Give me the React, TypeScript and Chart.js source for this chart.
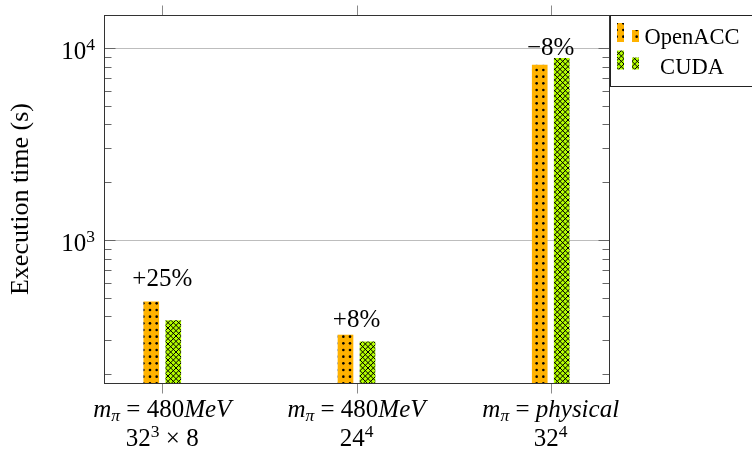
import { useEffect, useRef } from "react";
import { Chart, registerables } from "chart.js";

Chart.register(...registerables);

// ---- data ----
const categoryPositions = [0, 1, 2];
const pionMasses = ["480MeV", "480MeV", "physical"];
const latticeSizes = ["32^3 × 8", "24^4", "32^4"];
const seriesNames = ["OpenACC", "CUDA"];
const openaccSeconds = [477, 320, 8155];
const cudaSeconds = [380, 295, 8842];
const differenceLabels = ["+25%", "+8%", "−8%"];
const differenceLabelAt = [576, 352, 9195];
const yMajorTicks = [1000, 10000];
const yMinorTicks = [200, 300, 400, 500, 600, 700, 800, 900, 2000, 3000, 4000, 5000, 6000, 7000, 8000, 9000];
const yLimits = [180, 14860];
const xLimits = [-0.3, 2.3];
const yTitle = "Execution time (s)";

// ---- styling ----
const SERIF = '"Liberation Serif", "Times New Roman", Times, serif';
const fnt = (size: number, italic = false) => `${italic ? "italic " : ""}${size}px ${SERIF}`;
const ORANGE = "rgb(255,178,0)";
const LIME = "rgb(180,255,0)";
const BASE = 25;

type Seg = { t: string; it?: boolean; sub?: boolean; sup?: boolean };

function drawRich(ctx: CanvasRenderingContext2D, segs: Seg[], x: number, baseline: number, size: number, align: "left" | "center" | "right") {
  const small = size * 0.7;
  const widths = segs.map((s) => {
    ctx.font = fnt(s.sub || s.sup ? small : size, s.it);
    return ctx.measureText(s.t).width;
  });
  const total = widths.reduce((a, b) => a + b, 0);
  let cx = align === "center" ? x - total / 2 : align === "right" ? x - total : x;
  ctx.textAlign = "left";
  ctx.textBaseline = "alphabetic";
  segs.forEach((s, i) => {
    ctx.font = fnt(s.sub || s.sup ? small : size, s.it);
    const dy = s.sub ? size * 0.14 : s.sup ? -size * 0.34 : 0;
    ctx.fillText(s.t, cx, baseline + dy);
    cx += widths[i];
  });
}

function massSegs(m: string): Seg[] {
  const parts = m.match(/[A-Za-z]+|[^A-Za-z]+/g) || [];
  return parts.map((p) => ({ t: p, it: /[A-Za-z]/.test(p) }));
}

function supSegs(s: string): Seg[] {
  const out: Seg[] = [];
  s.split(/(\^\d+)/).forEach((p) => {
    if (!p) return;
    if (p.startsWith("^")) out.push({ t: p.slice(1), sup: true });
    else out.push({ t: p });
  });
  return out;
}

function makeDots(ctx: CanvasRenderingContext2D, fill: string) {
  const c = document.createElement("canvas");
  c.width = 20;
  c.height = 20;
  const g = c.getContext("2d")!;
  g.fillStyle = fill;
  g.fillRect(0, 0, 20, 20);
  g.fillStyle = "#000";
  const step = 20 / 3;
  for (let i = 0; i < 3; i++)
    for (let j = 0; j < 3; j++) {
      g.beginPath();
      g.arc(step * (i + 0.5), step * (j + 0.5), 1.3, 0, Math.PI * 2);
      g.fill();
    }
  return ctx.createPattern(c, "repeat")!;
}

function makeHatch(ctx: CanvasRenderingContext2D, fill: string) {
  const size = 16;
  const c = document.createElement("canvas");
  c.width = size;
  c.height = size;
  const g = c.getContext("2d")!;
  g.fillStyle = fill;
  g.fillRect(0, 0, size, size);
  g.strokeStyle = "#000";
  g.lineWidth = 1.0;
  const p = size / 3;
  for (let k = -6; k <= 9; k++) {
    g.beginPath();
    g.moveTo(k * p - 4, -4);
    g.lineTo(k * p + size + 4, size + 4);
    g.stroke();
    g.beginPath();
    g.moveTo(k * p + 4, -4);
    g.lineTo(k * p - size - 4, size + 4);
    g.stroke();
  }
  return ctx.createPattern(c, "repeat")!;
}

function hline(ctx: CanvasRenderingContext2D, x1: number, x2: number, y: number) {
  ctx.beginPath();
  ctx.moveTo(x1, y);
  ctx.lineTo(x2, y);
  ctx.stroke();
}
function vline(ctx: CanvasRenderingContext2D, x: number, y1: number, y2: number) {
  ctx.beginPath();
  ctx.moveTo(x, y1);
  ctx.lineTo(x, y2);
  ctx.stroke();
}

const decor = {
  id: "decor",
  beforeDatasetsDraw(chart: any) {
    const { ctx, chartArea: a, scales } = chart;
    const y = scales.y;
    ctx.save();
    ctx.strokeStyle = "#bdbdbd";
    ctx.lineWidth = 1;
    yMajorTicks.forEach((v) => {
      const py = Math.round(y.getPixelForValue(v)) + 0.5;
      hline(ctx, a.left, a.right, py);
    });
    ctx.restore();
  },
  afterDraw(chart: any) {
    const { ctx, chartArea: a, scales } = chart;
    const x = scales.x;
    const y = scales.y;
    const L = Math.round(a.left) + 0.5;
    const R = Math.round(a.right) + 0.5;
    const T = Math.round(a.top) + 0.5;
    const B = Math.round(a.bottom) + 0.5;
    ctx.save();
    // y ticks (inside, both sides)
    ctx.strokeStyle = "#666";
    ctx.lineWidth = 1;
    yMinorTicks.forEach((v) => {
      const py = Math.round(y.getPixelForValue(v)) + 0.5;
      hline(ctx, L, L + 7, py);
      hline(ctx, R, R - 7, py);
    });
    yMajorTicks.forEach((v) => {
      const py = Math.round(y.getPixelForValue(v)) + 0.5;
      hline(ctx, L, L + 11, py);
      hline(ctx, R, R - 11, py);
    });
    // x ticks (outside, top and bottom)
    ctx.strokeStyle = "#8a8a8a";
    categoryPositions.forEach((c) => {
      const px = Math.round(x.getPixelForValue(c)) + 0.5;
      vline(ctx, px, B, B + 10);
      vline(ctx, px, T, T - 10);
    });
    // frame
    ctx.strokeStyle = "#333";
    ctx.strokeRect(L, T, R - L, B - T);

    ctx.fillStyle = "#000";
    // y tick labels
    yMajorTicks.forEach((v) => {
      const py = y.getPixelForValue(v);
      drawRich(ctx, [{ t: "10" }, { t: String(Math.round(Math.log10(v))), sup: true }], a.left - 9, py + 10.5, BASE, "right");
    });
    // x tick labels
    categoryPositions.forEach((c, i) => {
      const px = x.getPixelForValue(c);
      const line1: Seg[] = [{ t: "m", it: true }, { t: "π", it: true, sub: true }, { t: " = " }, ...massSegs(pionMasses[i])];
      drawRich(ctx, line1, px, a.bottom + 34, BASE, "center");
      drawRich(ctx, supSegs(latticeSizes[i]), px, a.bottom + 62.5, BASE, "center");
    });
    // difference annotations
    ctx.font = fnt(BASE);
    ctx.textAlign = "center";
    ctx.textBaseline = "alphabetic";
    categoryPositions.forEach((c, i) => {
      ctx.fillText(differenceLabels[i], x.getPixelForValue(c), y.getPixelForValue(differenceLabelAt[i]));
    });
    // y title
    ctx.save();
    ctx.translate(21, (a.top + a.bottom) / 2);
    ctx.rotate(-Math.PI / 2);
    ctx.font = fnt(26);
    ctx.textAlign = "center";
    ctx.textBaseline = "middle";
    ctx.fillText(yTitle, 0, 0);
    ctx.restore();

    // legend
    const lx = 610.5;
    const ly = 15.5;
    ctx.fillStyle = "#fff";
    ctx.fillRect(lx, ly, 200, 71);
    ctx.strokeStyle = "#222";
    ctx.strokeRect(lx, ly, 200, 71);
    const datasets = chart.data.datasets;
    datasets.forEach((ds: any, i: number) => {
      const bottom = ly + 26.5 + i * 27.5;
      ctx.fillStyle = ds.backgroundColor;
      ctx.fillRect(617, bottom - 19, 7, 19);
      ctx.fillRect(632, bottom - 12, 7, 12);
      ctx.fillStyle = "#000";
      ctx.font = fnt(22.5);
      ctx.textAlign = "center";
      ctx.textBaseline = "alphabetic";
      ctx.fillText(ds.label, 692, ly + 28 + i * 30);
    });
    ctx.restore();
  },
};

export default function App() {
  const ref = useRef<HTMLCanvasElement>(null);
  useEffect(() => {
    const canvas = ref.current!;
    const ctx = canvas.getContext("2d")!;
    const dots = makeDots(ctx, ORANGE);
    const hatch = makeHatch(ctx, LIME);
    const chart = new Chart(canvas, {
      type: "bar",
      data: {
        datasets: [
          {
            label: seriesNames[0],
            data: categoryPositions.map((c, i) => ({ x: c, y: openaccSeconds[i] })),
            backgroundColor: dots as any,
            borderWidth: 0,
            barThickness: 22,
            maxBarThickness: 15,
          },
          {
            label: seriesNames[1],
            data: categoryPositions.map((c, i) => ({ x: c, y: cudaSeconds[i] })),
            backgroundColor: hatch as any,
            borderWidth: 0,
            barThickness: 22,
            maxBarThickness: 15,
          },
        ],
      } as any,
      options: {
        responsive: false,
        animation: false,
        devicePixelRatio: 1,
        events: [],
        layout: { padding: { left: 104, top: 15, right: 143, bottom: 68 } },
        scales: {
          x: { type: "linear", display: false, min: xLimits[0], max: xLimits[1], offset: false, bounds: "data" },
          y: { type: "logarithmic", display: false, min: yLimits[0], max: yLimits[1], bounds: "data" },
        },
        plugins: { legend: { display: false }, tooltip: { enabled: false } },
      } as any,
      plugins: [decor],
    });
    return () => chart.destroy();
  }, []);
  return (
    <div style={{ position: "absolute", left: 0, top: 0, width: 752, height: 451, background: "#fff" }}>
      <canvas ref={ref} width={752} height={451} style={{ display: "block" }} />
    </div>
  );
}
